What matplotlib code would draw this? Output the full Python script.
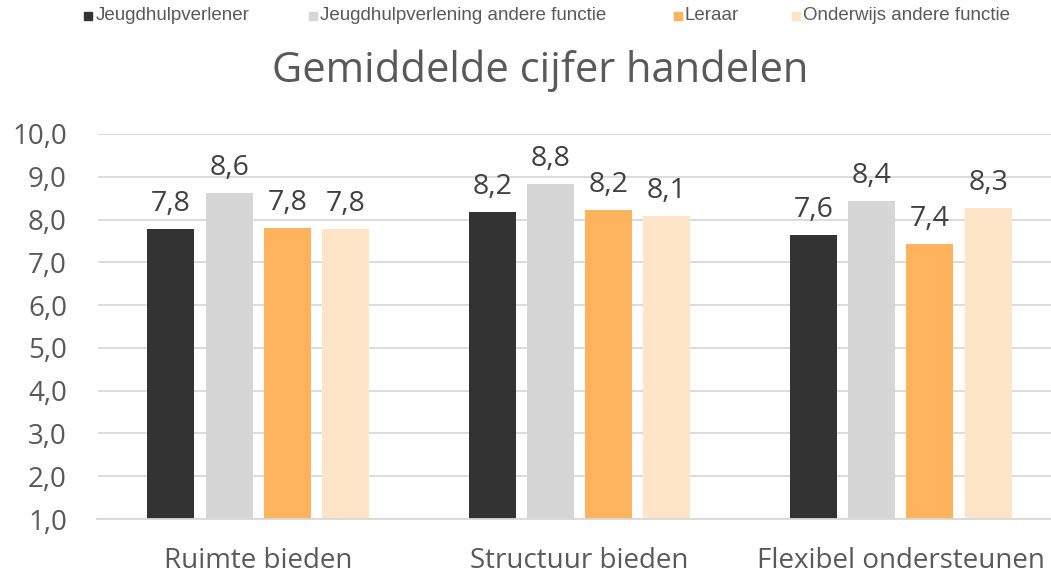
import matplotlib
matplotlib.use("Agg")
import matplotlib.pyplot as plt
from matplotlib.patches import Rectangle
import numpy as np

categories = ["Ruimte bieden", "Structuur bieden", "Flexibel ondersteunen"]
series_names = ["Jeugdhulpverlener", "Jeugdhulpverlening andere functie", "Leraar", "Onderwijs andere functie"]
jeugdhulpverlener = [7.78, 8.18, 7.64]
jeugdhulp_andere = [8.62, 8.83, 8.43]
leraar = [7.80, 8.22, 7.43]
onderwijs_andere = [7.78, 8.08, 8.27]
series_values = [jeugdhulpverlener, jeugdhulp_andere, leraar, onderwijs_andere]
colors = ["#333333", "#D6D6D6", "#FFB35C", "#FFE5C8"]
yticks = [1, 2, 3, 4, 5, 6, 7, 8, 9, 10]
title = "Gemiddelde cijfer handelen"

W, H = 1051, 574
fig = plt.figure(figsize=(W / 100, H / 100), dpi=100)
ax = fig.add_axes([97.5 / W, 55 / H, 964 / W, 385 / H])

font = "Open Sans"
txt = "#595959"

x = np.arange(len(categories))
bw = 0.146
pitch = 0.181
for i, (vals, c) in enumerate(zip(series_values, colors)):
    offs = (i - 1.5) * pitch
    ax.bar(x + offs, [v - 1 for v in vals], bottom=1, width=bw, color=c, zorder=3)
    for xi, v in zip(x + offs, vals):
        ax.annotate(f"{v:.1f}".replace(".", ","), (xi, v), xytext=(0, 8),
                    textcoords="offset points", ha="center", va="bottom",
                    fontsize=20.5, color="#404040", family=font)

ax.set_xlim(-0.5, 2.5)
ax.set_ylim(1, 10)
ax.set_yticks(yticks)
ax.set_yticklabels([f"{t:.1f}".replace(".", ",") for t in yticks], fontsize=20, color=txt, family=font)
ax.set_xticks(x)
ax.set_xticklabels(categories, fontsize=20, color=txt, family=font)
ax.tick_params(axis="y", length=0, pad=22)
ax.tick_params(axis="x", length=0, pad=20)
ax.grid(axis="y", color="#D9D9D9", linewidth=1.3, zorder=0)
for s in ["top", "right", "left"]:
    ax.spines[s].set_visible(False)
ax.spines["bottom"].set_color("#D9D9D9")
ax.spines["bottom"].set_linewidth(1.3)
ax.spines["bottom"].set_zorder(4)

fig.text(540 / W, 1 - 71 / H, title, ha="center", va="center", fontsize=30, color=txt, family=font)

# legend
sq_x = [84, 309, 674, 792]
tx_x = [96, 320, 685, 803]
ly = 16
for name, c, sx, tx in zip(series_names, colors, sq_x, tx_x):
    fig.patches.append(Rectangle((sx / W, 1 - (ly + 4) / H), 8 / W, 8 / H,
                                 transform=fig.transFigure, color=c, figure=fig))
    fig.text(tx / W, 1 - ly / H, name, ha="left", va="center", fontsize=13.5,
             color=txt, family="Liberation Sans")

fig.savefig("out.png", dpi=100)
